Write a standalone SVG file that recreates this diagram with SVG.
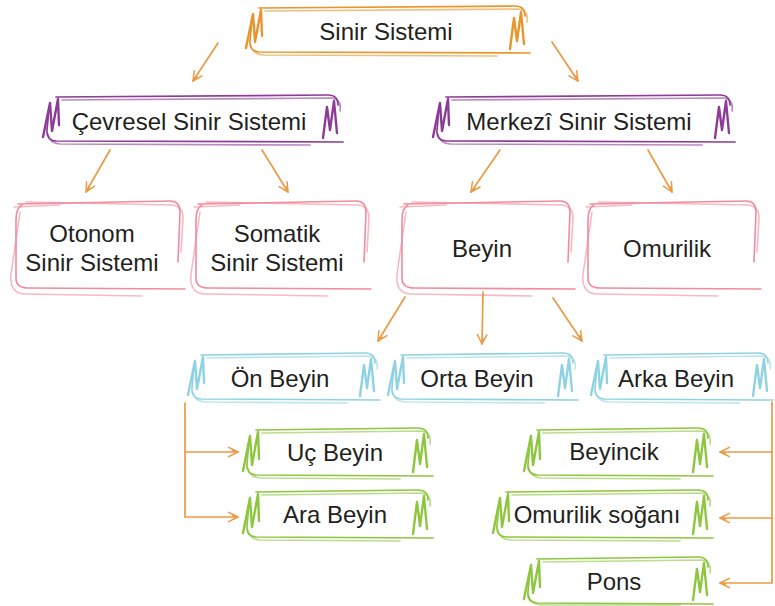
<svg xmlns="http://www.w3.org/2000/svg" width="775" height="606" viewBox="0 0 775 606">
<style>
.t{font-family:"Liberation Sans",Arial,sans-serif;font-size:24px;fill:#231f20;text-anchor:middle}
path{fill:none;stroke-linecap:round;stroke-linejoin:round}
.o path{stroke:#e8952c;stroke-width:1.7}
.p path{stroke:#8e3b97;stroke-width:1.7}
.k path{stroke:#f28b9b;stroke-width:1.6}
.c path{stroke:#8fd3e2;stroke-width:1.6}
.g path{stroke:#8dc63f;stroke-width:1.7}
path.z{stroke-width:2.4}
path.f{opacity:.6}
.con path{stroke:#eb9a45;stroke-width:1.7;marker-end:url(#ah)}
</style>
<defs>
<marker id="ah" viewBox="0 0 14 14" refX="12" refY="7" markerWidth="13" markerHeight="13" markerUnits="userSpaceOnUse" orient="auto">
<path d="M2,2 L12,7 L2,12 M12,7 L6,6" fill="none" stroke="#eb9a45" stroke-width="1.6"/>
</marker>
</defs>

<g id="sinir-sistemi" class="o">
<path d="M259,8 L515,6 Q525,6 525,16"/>
<path class="f" d="M265,11 L519,9 Q529,11 527,22"/>
<path d="M530,53 L259,52 Q249,51 250,41 L252,20"/>
<path class="f" d="M497,56 L263,55 Q252,54 251,45"/>
<path class="z" d="M246,48 L253,14 L255,42 L261,10 L262,36"/>
<path class="z" d="M510,49 L514,18 L517,41 L521,12 L524,44"/>
<text class="t" x="386" y="40">Sinir Sistemi</text>
</g>

<g id="cevresel" class="p">
<path d="M56,97 L328,95 Q338,95 338,105"/>
<path class="f" d="M62,100 L332,98 Q342,100 340,111"/>
<path d="M343,142 L56,141 Q46,140 47,130 L49,109"/>
<path class="f" d="M310,145 L60,144 Q49,143 48,134"/>
<path class="z" d="M43,137 L50,103 L52,131 L58,99 L59,125"/>
<path class="z" d="M323,138 L327,107 L330,130 L334,101 L337,133"/>
<text class="t" x="189" y="130">Çevresel Sinir Sistemi</text>
</g>

<g id="merkezi" class="p">
<path d="M446,97 L720,95 Q730,95 730,105"/>
<path class="f" d="M452,100 L724,98 Q734,100 732,111"/>
<path d="M735,142 L446,141 Q436,140 437,130 L439,109"/>
<path class="f" d="M702,145 L450,144 Q439,143 438,134"/>
<path class="z" d="M433,137 L440,103 L442,131 L448,99 L449,125"/>
<path class="z" d="M715,138 L719,107 L722,130 L726,101 L729,133"/>
<text class="t" x="579" y="130">Merkezî Sinir Sistemi</text>
</g>

<g id="otonom" class="k">
<path d="M18,204 L170,201 Q180,201 180,212 L178,262"/>
<path class="f" d="M26,202 L172,205 Q183,206 183,218 L181,252"/>
<path class="f" d="M14,207 L60,205"/>
<path d="M22,205 Q16,208 16,220 L16,278 Q16,288 28,288 L185,289"/>
<path class="f" d="M20,212 L11,274 Q9,294 26,294 L142,296"/>
<text class="t" x="92" y="242">Otonom</text>
<text class="t" x="92" y="271">Sinir Sistemi</text>
</g>

<g id="somatik" class="k">
<path d="M198,204 L356,201 Q366,201 366,212 L364,262"/>
<path class="f" d="M206,202 L358,205 Q369,206 369,218 L367,252"/>
<path class="f" d="M194,207 L240,205"/>
<path d="M202,205 Q196,208 196,220 L196,278 Q196,288 208,288 L371,289"/>
<path class="f" d="M200,212 L191,274 Q189,294 206,294 L328,296"/>
<text class="t" x="277" y="242">Somatik</text>
<text class="t" x="277" y="271">Sinir Sistemi</text>
</g>

<g id="beyin" class="k">
<path d="M404,204 L560,201 Q570,201 570,212 L568,262"/>
<path class="f" d="M412,202 L562,205 Q573,206 573,218 L571,252"/>
<path class="f" d="M400,207 L446,205"/>
<path d="M408,205 Q402,208 402,220 L402,278 Q402,288 414,288 L575,289"/>
<path class="f" d="M406,212 L397,274 Q395,294 412,294 L532,296"/>
<text class="t" x="482" y="257">Beyin</text>
</g>

<g id="omurilik" class="k">
<path d="M590,204 L746,201 Q756,201 756,212 L754,262"/>
<path class="f" d="M598,202 L748,205 Q759,206 759,218 L757,252"/>
<path class="f" d="M586,207 L632,205"/>
<path d="M594,205 Q588,208 588,220 L588,278 Q588,288 600,288 L761,289"/>
<path class="f" d="M592,212 L583,274 Q581,294 598,294 L718,296"/>
<text class="t" x="667" y="257">Omurilik</text>
</g>

<g id="on-beyin" class="c">
<path d="M201,355 L365,353 Q375,353 375,363"/>
<path class="f" d="M207,358 L369,356 Q379,358 377,369"/>
<path d="M380,400 L201,399 Q191,398 192,388 L194,367"/>
<path class="f" d="M347,403 L205,402 Q194,401 193,392"/>
<path class="z" d="M188,395 L195,361 L197,389 L203,357 L204,383"/>
<path class="z" d="M360,396 L364,365 L367,388 L371,359 L374,391"/>
<text class="t" x="280" y="387">Ön Beyin</text>
</g>

<g id="orta-beyin" class="c">
<path d="M401,355 L563,353 Q573,353 573,363"/>
<path class="f" d="M407,358 L567,356 Q577,358 575,369"/>
<path d="M578,400 L401,399 Q391,398 392,388 L394,367"/>
<path class="f" d="M545,403 L405,402 Q394,401 393,392"/>
<path class="z" d="M388,395 L395,361 L397,389 L403,357 L404,383"/>
<path class="z" d="M558,396 L562,365 L565,388 L569,359 L572,391"/>
<text class="t" x="477" y="387">Orta Beyin</text>
</g>

<g id="arka-beyin" class="c">
<path d="M604,355 L758,353 Q768,353 768,363"/>
<path class="f" d="M610,358 L762,356 Q772,358 770,369"/>
<path d="M773,400 L604,399 Q594,398 595,388 L597,367"/>
<path class="f" d="M740,403 L608,402 Q597,401 596,392"/>
<path class="z" d="M591,395 L598,361 L600,389 L606,357 L607,383"/>
<path class="z" d="M753,396 L757,365 L760,388 L764,359 L767,391"/>
<text class="t" x="676" y="387">Arka Beyin</text>
</g>

<g id="uc-beyin" class="g">
<path d="M256,430 L418,428 Q428,428 428,438"/>
<path class="f" d="M262,433 L422,431 Q432,433 430,444"/>
<path d="M433,476 L256,475 Q246,474 247,464 L249,442"/>
<path class="f" d="M400,479 L260,478 Q249,477 248,468"/>
<path class="z" d="M243,471 L250,436 L252,465 L258,432 L259,459"/>
<path class="z" d="M413,472 L417,440 L420,464 L424,434 L427,467"/>
<text class="t" x="335" y="461">Uç Beyin</text>
</g>

<g id="ara-beyin" class="g">
<path d="M256,492 L418,490 Q428,490 428,500"/>
<path class="f" d="M262,495 L422,493 Q432,495 430,506"/>
<path d="M433,538 L256,537 Q246,536 247,526 L249,504"/>
<path class="f" d="M400,541 L260,540 Q249,539 248,530"/>
<path class="z" d="M243,533 L250,498 L252,527 L258,494 L259,521"/>
<path class="z" d="M413,534 L417,502 L420,526 L424,496 L427,529"/>
<text class="t" x="335" y="523">Ara Beyin</text>
</g>

<g id="beyincik" class="g">
<path d="M537,430 L698,428 Q708,428 708,438"/>
<path class="f" d="M543,433 L702,431 Q712,433 710,444"/>
<path d="M713,476 L537,475 Q527,474 528,464 L530,442"/>
<path class="f" d="M680,479 L541,478 Q530,477 529,468"/>
<path class="z" d="M524,471 L531,436 L533,465 L539,432 L540,459"/>
<path class="z" d="M693,472 L697,440 L700,464 L704,434 L707,467"/>
<text class="t" x="614" y="460">Beyincik</text>
</g>

<g id="omurilik-sogani" class="g">
<path d="M506,492 L698,490 Q708,490 708,500"/>
<path class="f" d="M512,495 L702,493 Q712,495 710,506"/>
<path d="M713,538 L506,537 Q496,536 497,526 L499,504"/>
<path class="f" d="M680,541 L510,540 Q499,539 498,530"/>
<path class="z" d="M493,533 L500,498 L502,527 L508,494 L509,521"/>
<path class="z" d="M693,534 L697,502 L700,526 L704,496 L707,529"/>
<text class="t" x="597" y="523">Omurilik soğanı</text>
</g>

<g id="pons" class="g">
<path d="M537,559 L698,557 Q708,557 708,567"/>
<path class="f" d="M543,562 L702,560 Q712,562 710,573"/>
<path d="M713,604 L537,603 Q527,602 528,592 L530,571"/>
<path class="f" d="M680,605 L541,605 Q530,604 529,596"/>
<path class="z" d="M524,599 L531,565 L533,593 L539,561 L540,587"/>
<path class="z" d="M693,600 L697,569 L700,592 L704,563 L707,595"/>
<text class="t" x="614" y="590">Pons</text>
</g>

<g id="connectors" class="con">
<path d="M218,43 L193,81"/>
<path d="M552,42 L578,81"/>
<path d="M110,150 L86,192"/>
<path d="M262,150 L288,192"/>
<path d="M500,150 L471,192"/>
<path d="M648,150 L672,192"/>
<path d="M405,297 L378,341"/>
<path d="M483,292 L482,344"/>
<path d="M553,298 L582,341"/>
<path d="M185,403 L185,517 L238,517"/>
<path d="M185,452 L238,452"/>
<path d="M772,402 L772,583 L720,583"/>
<path d="M772,452 L720,452"/>
<path d="M772,518 L720,518"/>
</g>
</svg>
